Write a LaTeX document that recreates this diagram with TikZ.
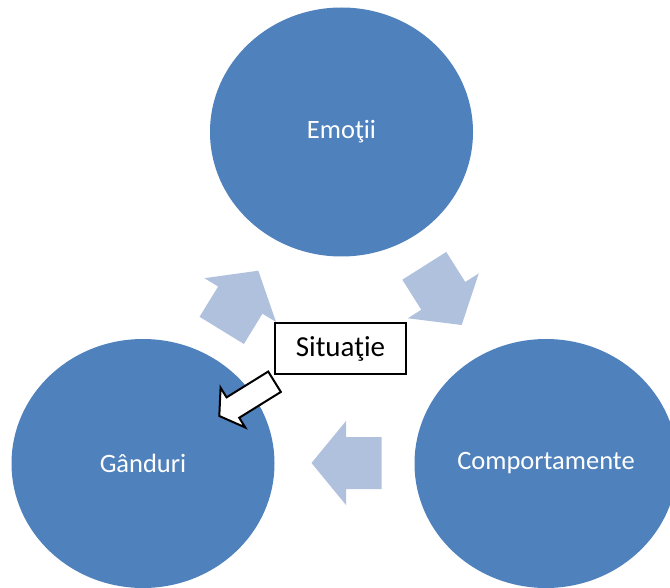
\documentclass[tikz,border=0pt]{standalone}
\usepackage{fontspec}
\setmainfont{Carlito}
\usetikzlibrary{shapes.geometric}
\definecolor{cyclefill}{HTML}{4F81BD}
\definecolor{flowfill}{HTML}{B0C1DD}
\tikzset{
  phase/.style={ellipse, fill=cyclefill, draw=none, inner sep=0pt,
    minimum width=263pt, minimum height=249pt, text=white,
    font=\fontsize{26.5}{30}\selectfont},
  flowarrow/.style={fill=flowfill, draw=none},
  trigger/.style={fill=white, draw=black, line width=2pt, line join=miter},
  labelbox/.style={rectangle, fill=white, draw=black, line width=2pt,
    minimum width=131pt, minimum height=51pt, inner sep=0pt,
    font=\fontsize{29}{32}\selectfont}
}
% block arrow pointing along +x with its tip at the origin
\newcommand{\flowshape}{(0,0) -- (-34.5,42) -- (-34.5,26) -- (-70,26) -- (-70,-26) -- (-34.5,-26) -- (-34.5,-42) -- cycle}
\newcommand{\triggershape}{(0,0) -- (-16,23.4) -- (-16,12) -- (-65,12) -- (-65,-12) -- (-16,-12) -- (-16,-23.4) -- cycle}
\begin{document}
\begin{tikzpicture}[x=1pt, y=-1pt]
  \useasboundingbox (0,0) rectangle (670,588);

  % the three phases of the cycle
  \node[phase] (emotii)  at (341.5,132)   {Emoţii};
  \node[phase] (ganduri) at (143,463.5)   {Gânduri};
  \node[phase] (comport) at (546,463.5)   {Comportamente};

  % cycle arrows
  \begin{scope}[shift={(258.3,270.7)}, rotate=58.5]
    \fill[flowarrow] \flowshape;
  \end{scope}
  \begin{scope}[shift={(461.7,325)}, rotate=-57.7]
    \fill[flowarrow] \flowshape;
  \end{scope}
  \begin{scope}[shift={(311.5,463)}, rotate=180]
    \fill[flowarrow] \flowshape;
  \end{scope}

  % trigger
  \node[labelbox] (situatie) at (340.5,348.5) {Situaţie};
  \begin{scope}[shift={(219.3,416)}, rotate=-148.2]
    \filldraw[trigger] \triggershape;
  \end{scope}
\end{tikzpicture}
\end{document}
